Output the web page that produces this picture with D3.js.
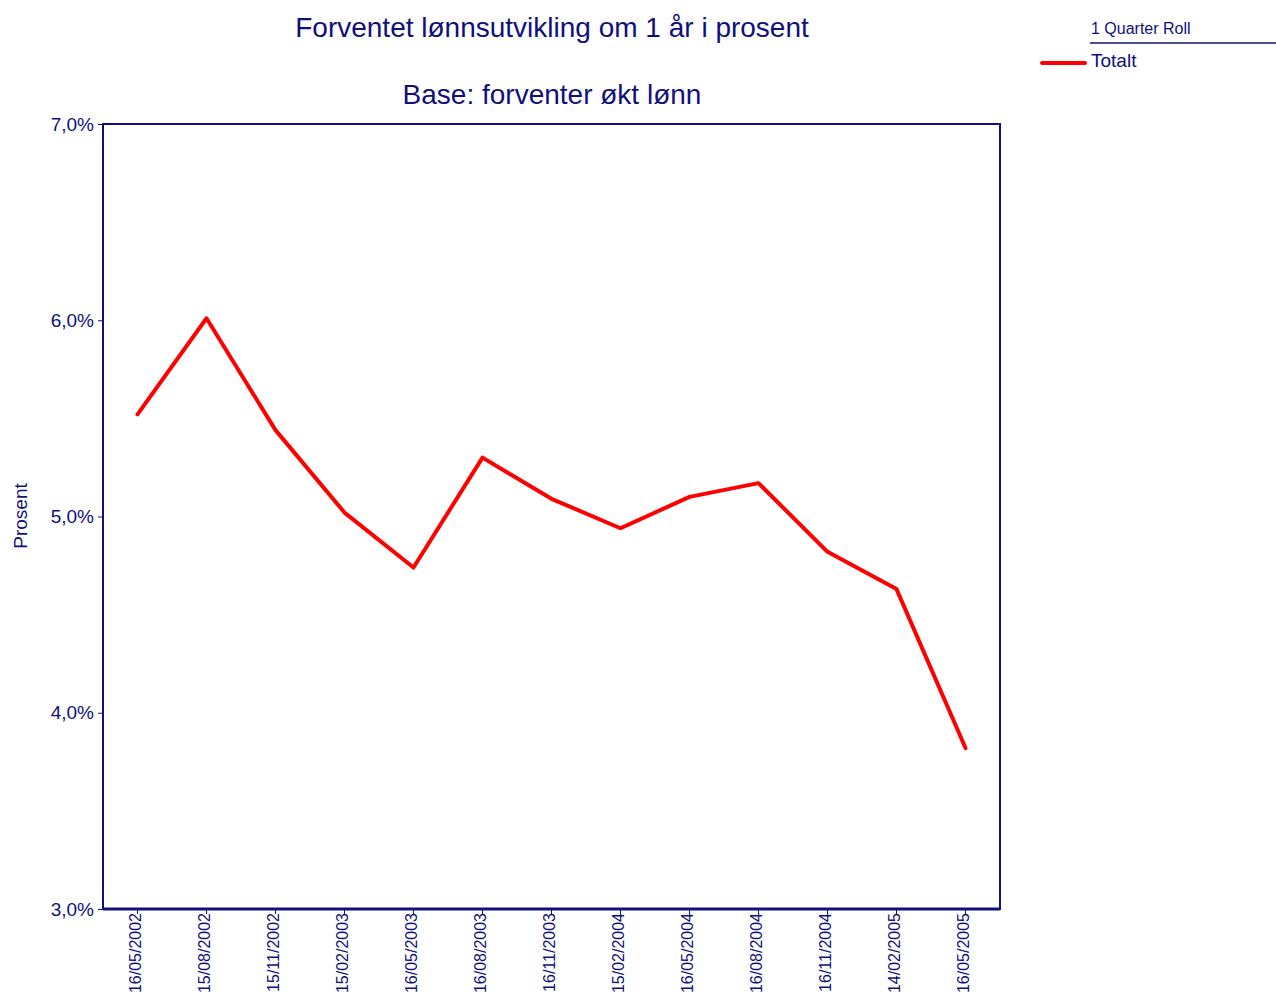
<!DOCTYPE html>
<html>
<head>
<meta charset="utf-8">
<script src="https://cdn.jsdelivr.net/npm/d3@7"></script>
<style>
  body { margin: 0; background: #fff; }
  text { font-family: "Liberation Sans", Arial, sans-serif; fill: #10107a; }
</style>
</head>
<body>
<svg width="1276" height="994"></svg>
<script>
// Data
var dates = ["16/05/2002", "15/08/2002", "15/11/2002", "15/02/2003", "16/05/2003",
  "16/08/2003", "16/11/2003", "15/02/2004", "16/05/2004", "16/08/2004",
  "16/11/2004", "14/02/2005", "16/05/2005"];
var totalt = [5.52, 6.01, 5.44, 5.02, 4.74, 5.30, 5.09, 4.94, 5.10, 5.17, 4.82, 4.63, 3.82];
var yTicks = [3, 4, 5, 6, 7];

var svg = d3.select("svg");
var navy = "#10107a";

var margin = { left: 103, right: 1000, top: 124, bottom: 909 };

var x = d3.scaleBand().domain(dates).range([margin.left, margin.right]);
var y = d3.scaleLinear().domain([3, 7]).range([margin.bottom, margin.top]);

// Titles
svg.append("text")
  .attr("x", 552).attr("y", 37)
  .attr("text-anchor", "middle")
  .style("font-size", "28px")
  .text("Forventet lønnsutvikling om 1 år i prosent");
svg.append("text")
  .attr("x", 552).attr("y", 104)
  .attr("text-anchor", "middle")
  .style("font-size", "28px")
  .text("Base: forventer økt lønn");

// Plot frame
svg.append("rect")
  .attr("x", margin.left).attr("y", margin.top)
  .attr("width", margin.right - margin.left)
  .attr("height", margin.bottom - margin.top)
  .attr("fill", "none")
  .attr("stroke", navy)
  .attr("stroke-width", 2);
svg.append("line")
  .attr("x1", margin.left).attr("x2", margin.right)
  .attr("y1", margin.bottom).attr("y2", margin.bottom)
  .attr("stroke", navy).attr("stroke-width", 3);

// Y axis
var yAxis = svg.append("g")
  .attr("transform", "translate(" + margin.left + ",0)")
  .call(d3.axisLeft(y).tickValues(yTicks).tickSize(5).tickPadding(4)
    .tickFormat(function (d) { return d3.format(".1f")(d).replace(".", ",") + "%"; }));
yAxis.select(".domain").remove();
yAxis.selectAll("line").attr("stroke", navy);
yAxis.selectAll("text").style("font-size", "19px").attr("fill", navy)
  .style("font-family", "'Liberation Sans', Arial, sans-serif");

svg.append("text")
  .attr("transform", "translate(27,516) rotate(-90)")
  .attr("text-anchor", "middle")
  .style("font-size", "19px")
  .text("Prosent");

// X axis
var xAxis = svg.append("g")
  .attr("transform", "translate(0," + margin.bottom + ")")
  .call(d3.axisBottom(x).tickSize(5).tickPadding(3));
xAxis.select(".domain").remove();
xAxis.selectAll("line").attr("stroke", navy);
xAxis.selectAll("text")
  .style("font-size", "16px")
  .attr("fill", navy)
  .style("font-family", "'Liberation Sans', Arial, sans-serif")
  .attr("text-anchor", "end")
  .attr("dy", "0.35em")
  .attr("transform", "translate(0,-4) rotate(-90)")
  .attr("x", -8).attr("y", -2);

// Line
var line = d3.line()
  .x(function (d, i) { return x(dates[i]) + x.bandwidth() / 2; })
  .y(function (d) { return y(d); });

svg.append("path")
  .datum(totalt)
  .attr("d", line)
  .attr("fill", "none")
  .attr("stroke", "#ff0000")
  .attr("stroke-width", 4)
  .attr("stroke-linejoin", "round")
  .attr("stroke-linecap", "round");

// Legend
svg.append("text")
  .attr("x", 1091).attr("y", 34)
  .style("font-size", "16px")
  .text("1 Quarter Roll");
svg.append("line")
  .attr("x1", 1090).attr("x2", 1276)
  .attr("y1", 43).attr("y2", 43)
  .attr("stroke", navy).attr("stroke-width", 1.5);
svg.append("line")
  .attr("x1", 1042).attr("x2", 1085)
  .attr("y1", 63).attr("y2", 63)
  .attr("stroke", "#ff0000").attr("stroke-width", 4)
  .attr("stroke-linecap", "round");
svg.append("text")
  .attr("x", 1091).attr("y", 67)
  .style("font-size", "19px")
  .text("Totalt");
</script>
</body>
</html>
